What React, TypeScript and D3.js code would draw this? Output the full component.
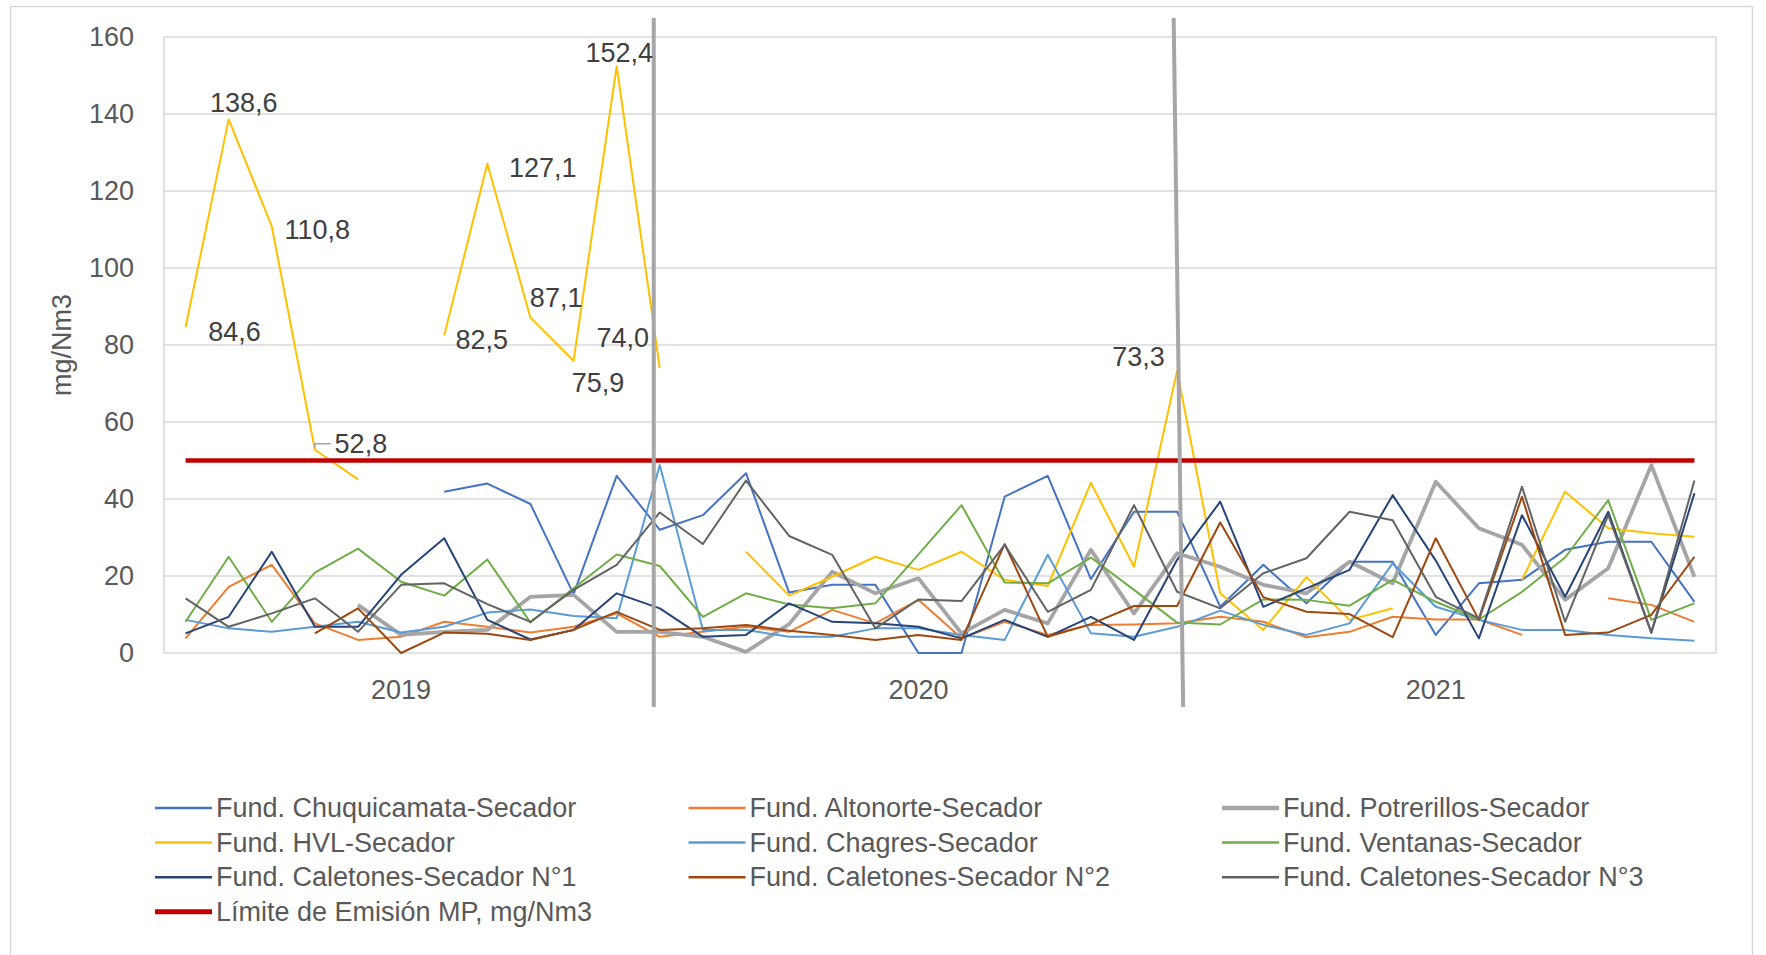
import * as d3 from "d3";

// monthly values, Jan 2019 .. Dec 2021 (null = no data)
const years = ["2019", "2020", "2021"];
const monthsPerYear = 12;

const chuquicamata = [null, null, null, null, null, null, 41.9, 44.0, 38.7, 15.3, 46.0, 32.0, 35.8, 46.7, 15.7, 17.7, 17.7, 0, 0, 40.6, 46.0, 19.2, 36.7, 36.7, 12.0, 22.9, 12.9, 23.7, 23.7, 4.7, 18.1, 19.0, 26.8, 28.9, 28.9, 13.3];
const altonorte = [3.8, 17.2, 22.9, 7.7, 3.4, 4.2, 8.1, 6.8, 5.3, 6.8, 10.3, 4.2, 5.5, 6.8, 5.5, 11.2, 7.7, 13.8, 3.8, 8.1, 4.7, 7.3, 7.4, 7.7, 9.4, 8.1, 4.1, 5.5, 9.4, 8.7, 8.7, 4.7, null, 14.2, 12.5, 8.1];
const potrerillos = [null, null, null, null, 12.5, 4.7, 5.5, 6.0, 14.6, 15.1, 5.5, 5.5, 4.2, 0.3, 7.5, 21.1, 15.5, 19.4, 5.1, 11.2, 7.7, 26.8, 10.3, 25.9, 22.4, 17.7, 15.5, 23.7, 18.1, 44.5, 32.4, 28.1, 13.8, 22.0, 48.8, 19.8];
const hvl = [84.6, 138.6, 110.8, 52.8, 45.1, null, 82.5, 127.1, 87.1, 75.9, 152.4, 74.0, null, 26.3, 14.9, 19.8, 25.0, 21.6, 26.3, 19.0, 17.4, 44.2, 22.4, 73.3, 15.5, 6.0, 19.7, 8.6, 11.6, null, null, 19.0, 41.9, 32.4, 31.1, 30.2];
const chagres = [8.6, 6.4, 5.5, 6.8, 8.1, 5.3, 6.8, 10.5, 11.3, 9.6, 9.0, 48.8, 6.0, 6.0, 4.2, 4.2, 6.4, 6.4, 4.7, 3.4, 25.5, 5.1, 4.2, 6.8, 11.0, 7.3, 4.7, 7.7, 23.3, 12.0, 8.6, 6.0, 6.0, 4.7, 3.8, 3.2];
const ventanas = [8.1, 25.0, 8.1, 20.9, 27.1, 18.5, 14.9, 24.3, 7.9, 16.8, 25.6, 22.6, 9.4, 15.5, 12.6, 11.6, 12.9, 25.6, 38.4, 18.3, 18.1, 24.8, 16.4, 7.9, 7.4, 13.9, 13.8, 12.3, 19.0, 13.3, 8.7, 15.9, 24.8, 39.7, 8.6, 12.9];
const caletones1 = [5.1, 9.4, 26.3, 6.8, 6.8, 20.3, 29.8, 8.6, 3.5, 6.0, 15.5, 11.6, 4.2, 4.7, 12.9, 8.1, 7.7, 6.8, 3.8, 8.6, 4.2, 9.4, 3.4, 24.2, 39.3, 12.0, 16.8, 21.6, 41.0, 24.0, 3.8, 35.8, 14.6, 36.7, 5.3, 41.5];
const caletones2 = [null, null, null, 5.1, 11.6, 0, 5.3, 5.0, 3.4, 6.0, 10.7, 6.0, 6.4, 7.3, 5.8, 4.7, 3.4, 4.7, 3.4, 28.3, 4.2, 7.5, 12.2, 12.2, 33.9, 14.5, 10.7, 10.1, 4.1, 29.8, 8.6, 40.6, 4.7, 5.3, 9.9, 25.0];
const caletones3 = [14.2, 6.8, 10.3, 14.2, 5.5, 17.7, 18.1, 12.7, 8.1, 16.4, 22.9, 36.5, 28.3, 44.8, 30.4, 25.5, 6.4, 13.9, 13.5, 28.1, 10.7, 16.4, 38.4, 15.9, 11.6, 20.7, 24.6, 36.7, 34.5, 14.6, 9.0, 43.2, 8.1, 35.8, 5.3, 44.8];
const limite = 50;

const yTicks = [0, 20, 40, 60, 80, 100, 120, 140, 160];

// HVL points that carry a data label
const hvlLabelIdx = [0, 1, 2, 3, 6, 7, 8, 9, 10, 11, 23];

const series = [
  { name: "Fund. Chuquicamata-Secador", values: chuquicamata, color: "#4472C4", w: 2 },
  { name: "Fund. Altonorte-Secador", values: altonorte, color: "#ED7D31", w: 2 },
  { name: "Fund. Potrerillos-Secador", values: potrerillos, color: "#A5A5A5", w: 3.8 },
  { name: "Fund. HVL-Secador", values: hvl, color: "#FFC000", w: 2 },
  { name: "Fund. Chagres-Secador", values: chagres, color: "#5B9BD5", w: 2 },
  { name: "Fund. Ventanas-Secador", values: ventanas, color: "#70AD47", w: 2 },
  { name: "Fund. Caletones-Secador N°1", values: caletones1, color: "#264478", w: 2 },
  { name: "Fund. Caletones-Secador N°2", values: caletones2, color: "#9E480E", w: 2 },
  { name: "Fund. Caletones-Secador N°3", values: caletones3, color: "#636363", w: 2 },
];

// label nudges (px) relative to the point, like hand-moved Excel labels
const labelNudge = [[49, 5], [15, -16], [45.5, 4], [46, -6], [37.5, 5], [55.5, 4.6], [25.7, -20], [24.5, 22.5], [2.7, -13], [-37, -30], [-38.5, -13.5]];
// hand-drawn year separators, in category units (top, bottom)
const dividers = [[10.86, 10.86], [22.92, 23.14]];

const W = 1766;
const H = 955;
const m = { left: 164, right: 1716, top: 37, bottom: 653 };
const font = "'Liberation Sans', Arial, sans-serif";
const txt = "#595959";

export default function App() {
  const n = years.length * monthsPerYear;
  const x = d3.scaleLinear().domain([-0.5, n - 0.5]).range([m.left, m.right]);
  const y = d3.scaleLinear().domain([0, 160]).range([m.bottom, m.top]);

  const line = d3
    .line<number | null>()
    .defined((d) => d != null)
    .x((d, i) => x(i))
    .y((d) => y(d as number));

  const fmt = (v: number) => d3.format(".1f")(v).replace(".", ",");

  const legendItems = [
    ...series.map((s) => ({ name: s.name, color: s.color, w: s.w === 2 ? 2.5 : 4.5 })),
    { name: "Límite de Emisión MP, mg/Nm3", color: "#C00000", w: 5 },
  ];

  return (
    <svg width={W} height={H} style={{ position: "absolute", left: 0, top: 0, background: "#fff" }} fontFamily={font}>
      <rect x={10.5} y={6.5} width={1742} height={1000} fill="#fff" stroke="#D9D9D9" strokeWidth={1.5} />

      {/* grid */}
      {yTicks.map((t) => (
        <g key={t}>
          <line x1={m.left} x2={m.right} y1={y(t)} y2={y(t)} stroke="#D9D9D9" strokeWidth={1.6} />
          <text x={134} y={y(t)} textAnchor="end" dominantBaseline="central" fontSize={27} fill={txt}>
            {t}
          </text>
        </g>
      ))}
      <line x1={m.left} x2={m.left} y1={m.top} y2={m.bottom} stroke="#D9D9D9" strokeWidth={1.6} />
      <line x1={m.right} x2={m.right} y1={m.top} y2={m.bottom} stroke="#D9D9D9" strokeWidth={1.6} />

      <text
        transform={`translate(62,${(m.top + m.bottom) / 2}) rotate(-90)`}
        textAnchor="middle"
        dominantBaseline="central"
        fontSize={27}
        fill={txt}
      >
        mg/Nm3
      </text>

      {years.map((yr, k) => (
        <text key={yr} x={x(k * monthsPerYear + 5)} y={690} textAnchor="middle" dominantBaseline="central" fontSize={27} fill={txt}>
          {yr}
        </text>
      ))}

      {/* series */}
      {series.map((s) => (
        <path key={s.name} d={line(s.values) || ""} fill="none" stroke={s.color} strokeWidth={s.w} strokeLinejoin="round" />
      ))}

      <line x1={x(0)} x2={x(n - 1)} y1={y(limite)} y2={y(limite)} stroke="#C00000" strokeWidth={4.6} />

      {dividers.map(([a, b], i) => (
        <line key={i} x1={x(a)} x2={x(b)} y1={m.top - 19} y2={m.bottom + 54} stroke="#A6A6A6" strokeWidth={4} />
      ))}

      {/* HVL data labels */}
      {hvlLabelIdx.map((idx, k) => {
        const v = hvl[idx] as number;
        const lx = x(idx) + labelNudge[k][0];
        const ly = y(v) + labelNudge[k][1];
        return (
          <g key={idx}>
            {idx === 3 && (
              <path d={`M${x(idx)},${y(v) - 2}V${ly}H${lx - 30}`} fill="none" stroke="#A6A6A6" strokeWidth={1.5} />
            )}
            <text x={lx} y={ly} textAnchor="middle" dominantBaseline="central" fontSize={27} fill="#404040">
              {fmt(v)}
            </text>
          </g>
        );
      })}

      {/* legend */}
      {legendItems.map((it, i) => {
        const col = i % 3;
        const row = Math.floor(i / 3);
        const lx = 155 + col * 533.5;
        const ly = 808 + row * 34.6;
        return (
          <g key={it.name}>
            <line x1={lx} x2={lx + 57} y1={ly} y2={ly} stroke={it.color} strokeWidth={it.w} />
            <text x={lx + 61} y={ly} dominantBaseline="central" fontSize={27} fill={txt}>
              {it.name}
            </text>
          </g>
        );
      })}
    </svg>
  );
}
